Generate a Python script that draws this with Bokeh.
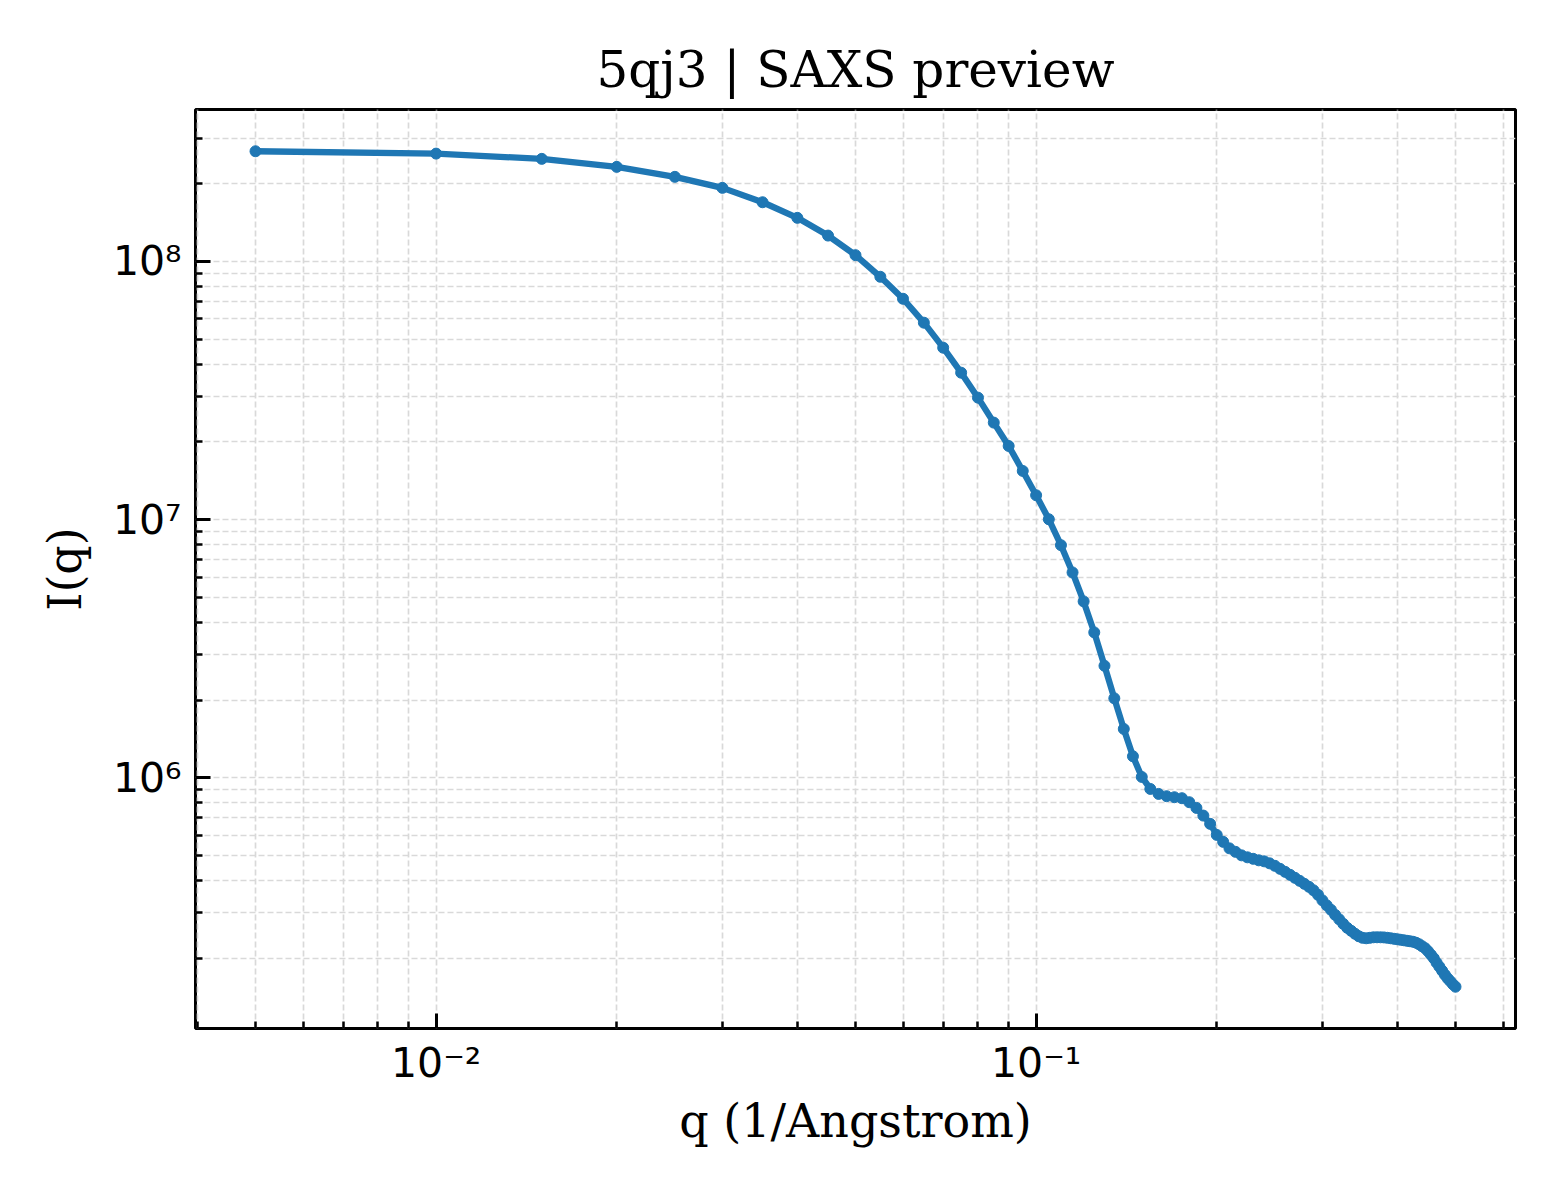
import numpy as np
from bokeh.plotting import figure
from bokeh.models import ColumnDataSource, Range1d, FixedTicker
from bokeh.embed import file_html
from bokeh.resources import INLINE

# SAXS profile values
q_values = [
    0.005, 0.010, 0.015, 0.020, 0.025, 0.030, 0.035, 0.040, 0.045, 0.050,
    0.055, 0.060, 0.065, 0.070, 0.075, 0.080, 0.085, 0.090, 0.095, 0.100,
    0.105, 0.110, 0.115, 0.120, 0.125, 0.130, 0.135, 0.140, 0.145, 0.150,
    0.155, 0.160, 0.165, 0.170, 0.175, 0.180, 0.185, 0.190, 0.195, 0.200,
    0.205, 0.210, 0.215, 0.220, 0.225, 0.230, 0.235, 0.240, 0.245, 0.250,
    0.255, 0.260, 0.265, 0.270, 0.275, 0.280, 0.285, 0.290, 0.295, 0.300,
    0.305, 0.310, 0.315, 0.320, 0.325, 0.330, 0.335, 0.340, 0.345, 0.350,
    0.355, 0.360, 0.365, 0.370, 0.375, 0.380, 0.385, 0.390, 0.395, 0.400,
    0.405, 0.410, 0.415, 0.420, 0.425, 0.430, 0.435, 0.440, 0.445, 0.450,
    0.455, 0.460, 0.465, 0.470, 0.475, 0.480, 0.485, 0.490, 0.495, 0.500,
]
intensity = [
    2.672e8, 2.617e8, 2.497e8, 2.325e8, 2.127e8, 1.928e8, 1.696e8, 1.476e8, 1.260e8, 1.058e8,
    8.727e7, 7.173e7, 5.795e7, 4.637e7, 3.710e7, 2.970e7, 2.377e7, 1.930e7, 1.545e7, 1.244e7,
    1.004e7, 7.970e6, 6.248e6, 4.827e6, 3.661e6, 2.719e6, 2.034e6, 1.548e6, 1.213e6, 1.009e6,
    9.066e5, 8.672e5, 8.496e5, 8.420e5, 8.347e5, 8.054e5, 7.655e5, 7.148e5, 6.640e5, 6.018e5,
    5.655e5, 5.338e5, 5.173e5, 5.015e5, 4.927e5, 4.862e5, 4.797e5, 4.754e5, 4.670e5, 4.568e5,
    4.446e5, 4.329e5, 4.215e5, 4.104e5, 3.995e5, 3.890e5, 3.787e5, 3.671e5, 3.527e5, 3.358e5,
    3.212e5, 3.086e5, 2.951e5, 2.835e5, 2.724e5, 2.628e5, 2.559e5, 2.492e5, 2.437e5, 2.404e5,
    2.394e5, 2.404e5, 2.415e5, 2.415e5, 2.415e5, 2.412e5, 2.404e5, 2.394e5, 2.383e5, 2.373e5,
    2.362e5, 2.352e5, 2.341e5, 2.331e5, 2.320e5, 2.300e5, 2.269e5, 2.229e5, 2.190e5, 2.132e5,
    2.067e5, 2.003e5, 1.925e5, 1.858e5, 1.792e5, 1.729e5, 1.676e5, 1.632e5, 1.589e5, 1.554e5,
]

x_major = [0.01, 0.1]
x_labels = {0.01: "10\u207b\u00b2", 0.1: "10\u207b\u00b9"}
y_major = [1e6, 1e7, 1e8]
y_labels = {1e6: "10\u2076", 1e7: "10\u2077", 1e8: "10\u2078"}

SERIF = "DejaVu Serif"
SANS = "DejaVu Sans"
BLUE = "#1f77b4"


# log range padded by 5% like matplotlib autoscale
def log_pad(vals, frac=0.05):
    lo, hi = np.log10(min(vals)), np.log10(max(vals))
    span = hi - lo
    return 10 ** (lo - frac * span), 10 ** (hi + frac * span)


def minor_log(lo_exp, hi_exp):
    return [k * 10.0 ** e for e in range(lo_exp, hi_exp) for k in range(2, 10)]


x0, x1 = log_pad(q_values)
y0, y1 = log_pad(intensity)

source = ColumnDataSource(data=dict(q=q_values, I=intensity))

p = figure(width=1544, height=1184, x_axis_type="log", y_axis_type="log",
           x_range=Range1d(x0, x1), y_range=Range1d(y0, y1),
           title="5qj3 | SAXS preview", x_axis_label="q (1/Angstrom)", y_axis_label="I(q)",
           output_backend="svg", toolbar_location=None)

p.min_border_left = 195
p.min_border_right = 29
p.min_border_top = 109
p.min_border_bottom = 156

p.line("q", "I", source=source, line_color=BLUE, line_width=6.3)
p.scatter("q", "I", source=source, size=11, fill_color=BLUE, line_color=BLUE)

# title
p.title.text_font = SERIF
p.title.text_font_size = "50px"
p.title.text_font_style = "normal"
p.title.text_color = "black"
p.title.align = "center"
p.title.standoff = 21

# frame
p.outline_line_color = "black"
p.outline_line_width = 3
p.background_fill_color = "white"
p.border_fill_color = "white"

p.xaxis.ticker = FixedTicker(ticks=x_major, minor_ticks=minor_log(-3, 0))
p.yaxis.ticker = FixedTicker(ticks=y_major, minor_ticks=minor_log(5, 9))
p.xaxis.major_label_overrides = x_labels
p.yaxis.major_label_overrides = y_labels

for ax in (p.xaxis[0], p.yaxis[0]):
    ax.axis_line_color = None
    ax.major_tick_in = 15
    ax.major_tick_out = 0
    ax.minor_tick_in = 7
    ax.minor_tick_out = 0
    ax.major_tick_line_width = 3
    ax.minor_tick_line_width = 2.5
    ax.major_tick_line_color = "black"
    ax.minor_tick_line_color = "black"
    ax.major_label_text_font = SANS
    ax.major_label_text_font_size = "41px"
    ax.major_label_text_color = "black"
    ax.axis_label_text_font = SERIF
    ax.axis_label_text_font_size = "46px"
    ax.axis_label_text_font_style = "normal"
    ax.axis_label_text_color = "black"

p.xaxis.major_label_standoff = 10
p.yaxis.major_label_standoff = 14
p.xaxis.axis_label_standoff = 4
p.yaxis.axis_label_standoff = 18

# dashed grid, major and minor
for g in (p.xgrid[0], p.ygrid[0]):
    g.grid_line_color = "#d9d9d9"
    g.grid_line_width = 1.7
    g.grid_line_dash = "6 3"
    g.minor_grid_line_color = "#d9d9d9"
    g.minor_grid_line_width = 1.7
    g.minor_grid_line_dash = "6 3"

open("out.html", "w").write(file_html(p, INLINE))
